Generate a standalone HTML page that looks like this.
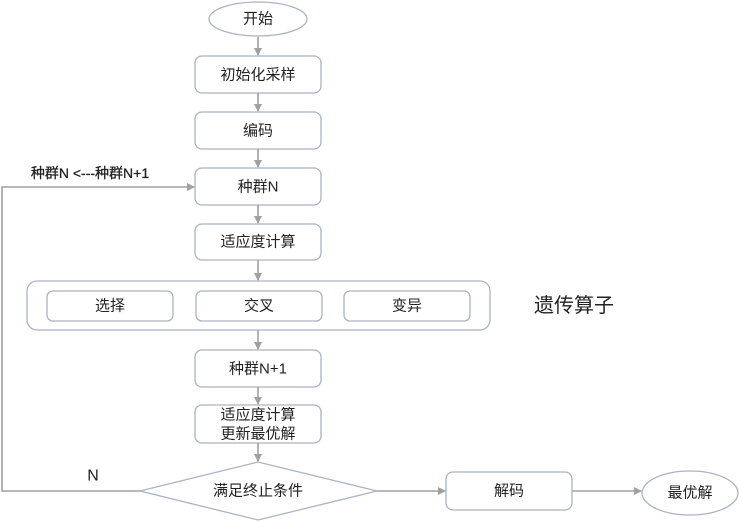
<!DOCTYPE html>
<html><head><meta charset="utf-8"><style>
html,body{margin:0;padding:0;background:#fff;}
svg{display:block;font-family:"Liberation Sans","Noto Sans CJK SC",sans-serif;}
</style></head><body>
<svg width="739" height="522" viewBox="0 0 739 522" xmlns="http://www.w3.org/2000/svg">
<defs>
<marker id="a" markerWidth="8" markerHeight="8" refX="7" refY="4" orient="auto" markerUnits="userSpaceOnUse">
<path d="M0,0 L8,4 L0,8 z" fill="#a0a0a0"/></marker>
</defs>
<g fill="#fff" stroke="#aab2c4" stroke-width="1.3">
<ellipse cx="258" cy="19" rx="49" ry="17"/>
<rect x="195" y="56" width="126" height="37" rx="7"/>
<rect x="195" y="112" width="126" height="37" rx="7"/>
<rect x="195" y="168" width="126" height="37" rx="7"/>
<rect x="195" y="224" width="126" height="36" rx="7"/>
<rect x="27" y="281" width="463" height="49" rx="10"/>
<rect x="47" y="291" width="126" height="30" rx="6"/>
<rect x="196" y="291" width="126" height="30" rx="6"/>
<rect x="344" y="291" width="126" height="30" rx="6"/>
<rect x="195" y="350" width="126" height="37" rx="7"/>
<rect x="195" y="405" width="126" height="38" rx="7"/>
<polygon points="140,491 258,462 377,491 258,520"/>
<rect x="446" y="472" width="126" height="38" rx="7"/>
<ellipse cx="690" cy="493" rx="48" ry="22"/>
</g>
<g stroke="#a0a0a0" stroke-width="1.6" fill="none">
<line x1="258" y1="37" x2="258" y2="55" marker-end="url(#a)"/>
<line x1="258" y1="93" x2="258" y2="111" marker-end="url(#a)"/>
<line x1="258" y1="149" x2="258" y2="167" marker-end="url(#a)"/>
<line x1="258" y1="205" x2="258" y2="223" marker-end="url(#a)"/>
<line x1="258" y1="260" x2="258" y2="280" marker-end="url(#a)"/>
<line x1="258" y1="330" x2="258" y2="349" marker-end="url(#a)"/>
<line x1="258" y1="387" x2="258" y2="404" marker-end="url(#a)"/>
<line x1="258" y1="443" x2="258" y2="461" marker-end="url(#a)"/>
<line x1="377" y1="491" x2="445" y2="491" marker-end="url(#a)"/>
<line x1="572" y1="491" x2="641" y2="491" marker-end="url(#a)"/>
<polyline points="140,491 2,491 2,187 194,187" marker-end="url(#a)"/>
</g>
<g font-size="15" fill="#222" text-anchor="middle" dominant-baseline="central">
<text x="258" y="19">开始</text>
<text x="258" y="75">初始化采样</text>
<text x="258" y="131">编码</text>
<text x="258" y="187">种群N</text>
<text x="258" y="242">适应度计算</text>
<text x="110" y="306">选择</text>
<text x="259" y="306">交叉</text>
<text x="407" y="306">变异</text>
<text x="258" y="369">种群N+1</text>
<text x="258" y="415">适应度计算</text>
<text x="258" y="434">更新最优解</text>
<text x="258" y="491">满足终止条件</text>
<text x="509" y="491">解码</text>
<text x="690" y="493">最优解</text>
<text x="574" y="306" font-size="20">遗传算子</text>
<text x="93" y="476" font-size="16">N</text>
<text x="90" y="173" font-size="14" stroke="#222" stroke-width="0.3">种群N &lt;---种群N+1</text>
</g>
</svg>
</body></html>
